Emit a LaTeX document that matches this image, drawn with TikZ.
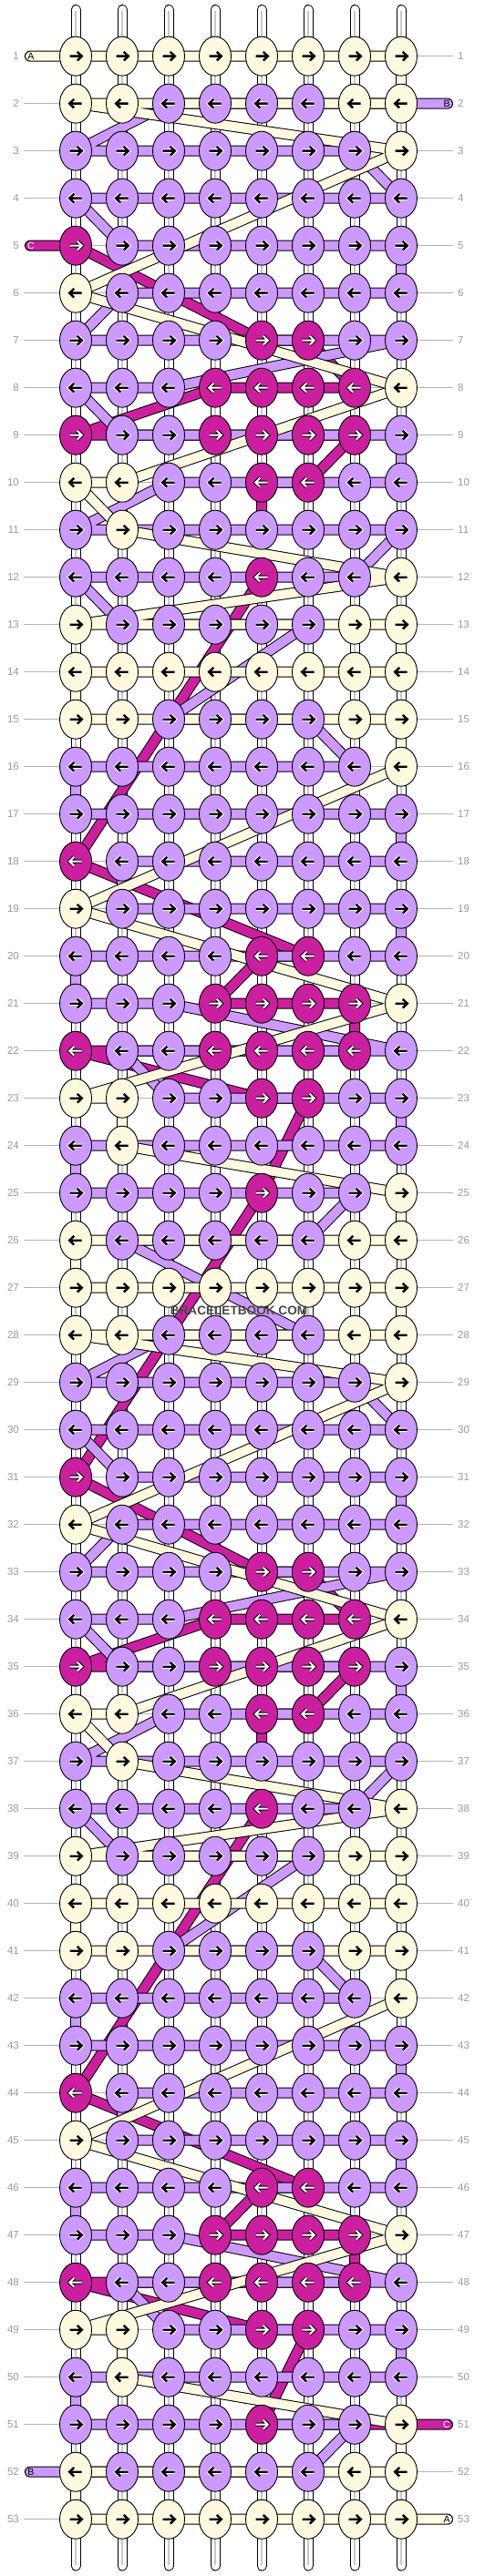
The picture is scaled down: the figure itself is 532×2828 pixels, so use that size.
\documentclass[tikz,border=0pt]{standalone}
\usepackage{fontspec}
\setmainfont{Liberation Sans}
\usetikzlibrary{shapes.geometric}
\definecolor{cream}{HTML}{FFF9E0}
\definecolor{lav}{HTML}{CC99FF}
\definecolor{mag}{HTML}{CC1FA0}
\definecolor{rowgray}{HTML}{B4B4B4}
\definecolor{labgray}{HTML}{9A9A9A}
\definecolor{strgray}{HTML}{C8C8C8}
\pgfdeclarelayer{rowlayer}
\pgfdeclarelayer{stringlayer}
\pgfdeclarelayer{threadlayer}
\pgfsetlayers{rowlayer,stringlayer,threadlayer,main}
\expandafter\def\csname pat1\endcsname{Y,Y,Y,Y,Y,Y,Y,Y}
\expandafter\def\csname pat2\endcsname{Y,Y,P,P,P,P,Y,Y}
\expandafter\def\csname pat3\endcsname{P,P,P,P,P,P,P,Y}
\expandafter\def\csname pat4\endcsname{P,P,P,P,P,P,P,P}
\expandafter\def\csname pat5\endcsname{M,P,P,P,P,P,P,P}
\expandafter\def\csname pat6\endcsname{Y,P,P,P,P,P,P,P}
\expandafter\def\csname pat7\endcsname{P,P,P,P,M,M,P,P}
\expandafter\def\csname pat8\endcsname{P,P,P,M,M,M,M,Y}
\expandafter\def\csname pat9\endcsname{M,P,P,M,M,M,M,P}
\expandafter\def\csname pat10\endcsname{Y,Y,P,P,M,M,P,P}
\expandafter\def\csname pat11\endcsname{P,Y,P,P,P,P,P,P}
\expandafter\def\csname pat12\endcsname{P,P,P,P,M,P,P,Y}
\expandafter\def\csname pat13\endcsname{Y,P,P,P,P,P,Y,Y}
\newcommand\buildthread[3]{%
  \xdef\thpath{(#2)}%
  \foreach \r in {1,...,53}{%
    \ifodd\r\relax\def\clist{1,2,3,4,5,6,7,8}\else\def\clist{8,7,6,5,4,3,2,1}\fi
    \foreach \c in \clist{%
      \edef\kk{\csname kc-\r-\c\endcsname}%
      \def\want{#1}%
      \ifx\kk\want\xdef\thpath{\thpath -- (k-\r-\c.center)}\fi
    }%
  }%
  \xdef\thpath{\thpath -- (#3)}%
}
\begin{document}
\begin{tikzpicture}[x=1pt,y=-1pt,
  knotbase/.style={ellipse, draw=black, line width=0.9, minimum width=35, minimum height=43, inner sep=0},
  knotY/.style={knotbase, fill=cream},
  knotP/.style={knotbase, fill=lav},
  knotM/.style={knotbase, fill=mag},
  arrowY/.style={draw=black, line width=2.4},
  arrowP/.style={draw=black, line width=2.4, preaction={draw=white, line width=4.4}},
  arrowM/.style={draw=white, line width=2.0, preaction={draw=black, line width=4.0}},
  rowlab/.style={text=labgray, font=\fontsize{11.5}{13}\selectfont, inner sep=0},
  rowline/.style={draw=rowgray, line width=1},
  threadout/.style={draw=black, line width=12, line cap=round, line join=round},
  threadin/.style={line width=10, line cap=round, line join=round},
  taillab/.style={font=\fontsize{10.5}{12}\selectfont, inner sep=0},
  wmark/.style={font=\bfseries\fontsize{13.6}{15}\selectfont, text=black!72}]
\useasboundingbox (0,0) rectangle (532,2828);
% knots, arrows, row labels
\foreach \r in {1,...,53}{
  \pgfmathtruncatemacro\p{mod(\r-1,13)+1}
  \pgfmathsetmacro\yr{61.7+52*(\r-1)}
  \ifodd\r\relax\def\dir{1}\else\def\dir{-1}\fi
  \edef\plist{\csname pat\p\endcsname}
  \node[rowlab,anchor=east] (ll-\r) at (21,\yr) {\r};
  \node[rowlab,anchor=west] (lr-\r) at (502,\yr) {\r};
  \begin{pgfonlayer}{rowlayer}
    \draw[rowline] (26,\yr) -- (497,\yr);
  \end{pgfonlayer}
  \foreach \k [count=\c] in \plist {
    \pgfmathsetmacro\xc{83+51*(\c-1)}
    \expandafter\xdef\csname kc-\r-\c\endcsname{\k}
    \node[knot\k] (k-\r-\c) at (\xc,\yr) {};
    \begin{scope}[shift={(\xc,\yr)},xscale=\dir]
      \draw[arrow\k] (-6.5,0) -- (6.3,0) (1.8,-4.8) -- (6.8,0) -- (1.8,4.8);
    \end{scope}
  }
}
% vertical strings
\begin{pgfonlayer}{stringlayer}
\foreach \c in {1,...,8}{
  \pgfmathsetmacro\xc{83+51*(\c-1)}
  \draw[black, line width=11, line cap=round] (\xc,10.5) -- (\xc,2817);
  \draw[white, line width=9, line cap=round] (\xc,10.5) -- (\xc,2817);
  \draw[strgray, line width=1.6] (\xc,12) -- (\xc,2816);
}
\end{pgfonlayer}
% tails
\coordinate (tA1) at (33,61.7);
\coordinate (tA2) at (491,2765.7);
\coordinate (tB1) at (491,113.7);
\coordinate (tB2) at (33,2713.7);
\coordinate (tC1) at (33,269.7);
\coordinate (tC2) at (491,2661.7);
% threads
\begin{pgfonlayer}{threadlayer}
\buildthread{M}{tC1}{tC2}
\edef\tmp{\noexpand\draw[threadout] \thpath;}\tmp
\edef\tmp{\noexpand\draw[threadin,draw=mag] \thpath;}\tmp
\buildthread{P}{tB1}{tB2}
\edef\tmp{\noexpand\draw[threadout] \thpath;}\tmp
\edef\tmp{\noexpand\draw[threadin,draw=lav] \thpath;}\tmp
\buildthread{Y}{tA1}{tA2}
\edef\tmp{\noexpand\draw[threadout] \thpath;}\tmp
\edef\tmp{\noexpand\draw[threadin,draw=cream] \thpath;}\tmp
\end{pgfonlayer}
% tail labels
\node[taillab] (nA1) at (34,62.2) {A};
\node[taillab] (nA2) at (490,2766.2) {A};
\node[taillab] (nB1) at (490,114.2) {B};
\node[taillab] (nB2) at (34,2714.2) {B};
\node[taillab,text=white] (nC1) at (34,270.2) {C};
\node[taillab,text=white] (nC2) at (490,2662.2) {C};
% watermark
\node[wmark] (wm) at (262,1439) {BRACELETBOOK.COM};
\end{tikzpicture}
\end{document}
